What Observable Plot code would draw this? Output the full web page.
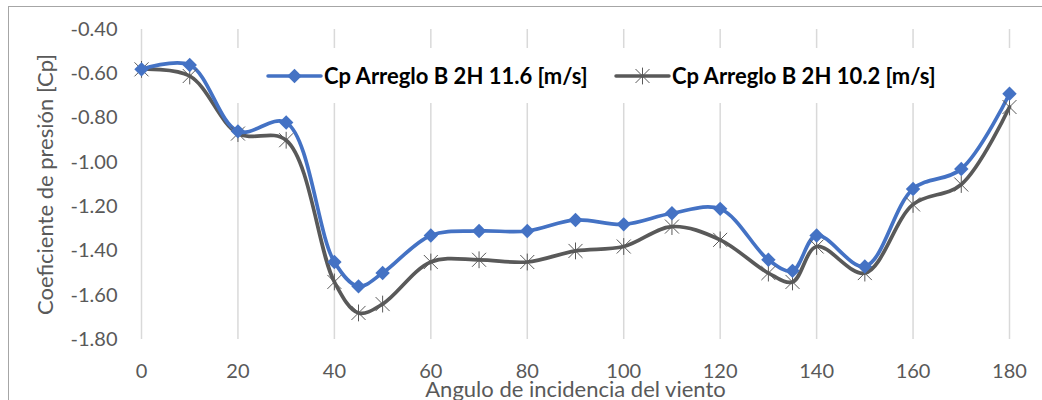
<!DOCTYPE html>
<html><head><meta charset="utf-8">
<script src="https://cdn.jsdelivr.net/npm/d3@7"></script>
<script src="https://cdn.jsdelivr.net/npm/@observablehq/plot@0.6"></script>
<style>
body{margin:0;background:#fff;}
#wrap{position:relative;width:1042px;height:400px;overflow:hidden;font-family:Lato,sans-serif;background:#fff;}
#frame{position:absolute;left:8px;top:6px;width:1200px;height:600px;border-left:1px solid #a6a6a6;border-top:1px solid #a6a6a6;pointer-events:none;}
#wrap svg{position:absolute;left:0;top:0;}
[aria-label="y-axis label"], [aria-label="x-axis label"] {font-size: 22px;}
</style></head><body>
<div id="wrap"><div id="frame"></div></div>
<script>
const angles = [0,10,20,30,40,45,50,60,70,80,90,100,110,120,130,135,140,150,160,170,180];
const cp116  = [-0.58,-0.56,-0.86,-0.82,-1.45,-1.56,-1.50,-1.33,-1.31,-1.31,-1.26,-1.28,-1.23,-1.21,-1.44,-1.49,-1.33,-1.47,-1.12,-1.03,-0.69];
const cp102  = [-0.58,-0.61,-0.87,-0.90,-1.54,-1.68,-1.64,-1.45,-1.44,-1.45,-1.40,-1.38,-1.29,-1.35,-1.50,-1.54,-1.38,-1.50,-1.19,-1.10,-0.75];
const seriesNames = ["Cp Arreglo B 2H 11.6 [m/s]", "Cp Arreglo B 2H 10.2 [m/s]"];
const xTicks = [0,20,40,60,80,100,120,140,160,180];
const yTicks = [-1.8,-1.6,-1.4,-1.2,-1.0,-0.8,-0.6,-0.4];
const xLabel = "Angulo de incidencia del viento";
const yLabel = "Coeficiente de presión [Cp]";

const BLUE = "#4472c4", GRAY = "#595959";
const rows116 = angles.map((a,i)=>({a, v: cp116[i]}));
const rows102 = angles.map((a,i)=>({a, v: cp102[i]}));

const star = {draw(ctx, size){
  const r = Math.sqrt(size/Math.PI);
  ctx.moveTo(-r,-r); ctx.lineTo(r,r);
  ctx.moveTo(r,-r); ctx.lineTo(-r,r);
  ctx.moveTo(0,-r*1.2); ctx.lineTo(0,r*1.2);
}};

function legendMark(index, scales, values, dims) {
  const g = d3.create("svg:g");
  g.append("rect").attr("x",180).attr("y",48).attr("width",840).attr("height",55)
    .attr("fill","#ffffff").attr("stroke","none");
  const items = [
    {x0:268, color:BLUE, name:seriesNames[0], sym:"diamond"},
    {x0:616, color:GRAY, name:seriesNames[1], sym:"star"}
  ];
  const yc = 76;
  for (const it of items) {
    g.append("line").attr("x1",it.x0).attr("x2",it.x0+53).attr("y1",yc).attr("y2",yc)
      .attr("stroke",it.color).attr("stroke-width",3.5).attr("stroke-linecap","round");
    const cx = it.x0+26.5;
    if (it.sym==="diamond") {
      g.append("path").attr("d", d3.symbol(d3.symbolDiamond2, 6.5*6.5*Math.PI)()).attr("transform",`translate(${cx},${yc})`).attr("fill",it.color);
    } else {
      g.append("path").attr("d", d3.symbol(star, 7*7*Math.PI)()).attr("transform",`translate(${cx},${yc})`).attr("fill","none").attr("stroke",it.color).attr("stroke-width",1);
    }
    g.append("text").attr("x",it.x0+56).attr("y",yc).attr("dy","0.35em")
      .attr("text-anchor","start")
      .attr("font-family","Lato, sans-serif").attr("font-weight","bold").attr("font-size",22)
      .attr("fill","#000").text(it.name);
  }
  return g.node();
}

const chart = Plot.plot({
  width: 1042, height: 400,
  marginLeft: 141, marginRight: 33, marginTop: 29, marginBottom: 61,
  style: {fontFamily: "Lato, sans-serif", fontSize: "20px", background: "transparent", color: "#595959"},
  x: {domain: [0,180]},
  y: {domain: [-1.8,-0.4]},
  marks: [
    Plot.ruleX(xTicks, {stroke: "#d9d9d9", strokeWidth: 1.5}),
    legendMark,
    Plot.axisX(xTicks, {tickSize: 0, tickPadding: 24, fontSize: 20, fill: "#595959",
      label: xLabel, labelAnchor: "center", labelOffset: 57, labelArrow: false}),
    Plot.axisY(yTicks, {tickSize: 0, tickPadding: 24, fontSize: 20, fill: "#595959",
      tickFormat: d => d.toFixed(2),
      label: yLabel, labelAnchor: "center", labelOffset: 104, labelArrow: false}),
    Plot.line(rows102, {x: "a", y: "v", stroke: GRAY, strokeWidth: 3.7, curve: "catmull-rom"}),
    Plot.line(rows116, {x: "a", y: "v", stroke: BLUE, strokeWidth: 3.7, curve: "catmull-rom"}),
    Plot.dot(rows102, {x: "a", y: "v", symbol: star, r: 7, fill: "none", stroke: GRAY, strokeWidth: 1}),
    Plot.dot(rows116, {x: "a", y: "v", symbol: "diamond2", r: 6.5, fill: BLUE, stroke: "none"})
  ]
});
document.getElementById("wrap").insertBefore(chart, document.getElementById("frame"));
</script>
</body></html>
